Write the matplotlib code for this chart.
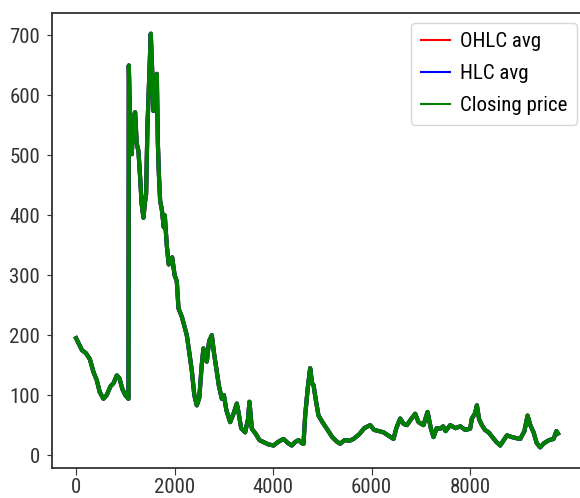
import matplotlib
matplotlib.use('Agg')
import matplotlib.pyplot as plt
from matplotlib import font_manager

# readings (index, closing price)
idx = [0, 60, 120, 200, 280, 351, 420, 480, 555, 620, 700, 760, 826, 880, 940, 1000, 1063,
       1070, 1090, 1110, 1131, 1160, 1198, 1230, 1266, 1300, 1330, 1367, 1395, 1421, 1448,
       1480, 1516, 1545, 1570, 1600, 1638, 1660, 1680, 1706, 1740, 1780, 1800, 1841, 1880,
       1950, 2000, 2044, 2078, 2150, 2247, 2300, 2350, 2400, 2450, 2500, 2550, 2585, 2620,
       2653, 2700, 2755, 2800, 2857, 2900, 2958, 3000, 3050, 3127, 3200, 3262, 3300, 3350,
       3431, 3490, 3519, 3567, 3650, 3722, 3800, 3900, 4007, 4100, 4210, 4300, 4379, 4450,
       4515, 4580, 4616, 4650, 4700, 4751, 4790, 4819, 4870, 4920, 5000, 5090, 5200, 5300,
       5360, 5450, 5550, 5631, 5750, 5850, 5969, 6050, 6150, 6240, 6350, 6443, 6500, 6579,
       6650, 6714, 6800, 6883, 6950, 7052, 7134, 7200, 7255, 7320, 7391, 7450, 7500, 7594,
       7700, 7800, 7900, 7998, 8034, 8100, 8135, 8180, 8237, 8300, 8372, 8450, 8530, 8609,
       8680, 8745, 8850, 8950, 9015, 9100, 9164, 9220, 9286, 9350, 9421, 9500, 9600, 9692,
       9750, 9780]
close_val = [195, 185, 175, 170, 160, 139, 125, 105, 94, 100, 115, 120, 133, 128, 110, 100, 94,
             650, 580, 540, 502, 560, 572, 520, 507, 463, 420, 396, 420, 435, 547,
             620, 703, 640, 574, 600, 636, 520, 470, 424, 410, 380, 400, 350, 318,
             330, 300, 290, 245, 230, 200, 170, 140, 100, 83, 95, 150, 178, 160,
             156, 190, 200, 170, 139, 115, 94, 100, 75, 55, 70, 86, 70, 45,
             38, 60, 89, 44, 35, 25, 22, 18, 16, 22, 27, 20, 16, 22,
             25, 20, 19, 66, 110, 145, 120, 117, 90, 66, 55, 44, 30, 22,
             19, 25, 24, 27, 35, 45, 50, 42, 40, 38, 32, 27, 45, 61,
             52, 50, 60, 69, 55, 50, 72, 45, 30, 45, 44, 48, 40, 50,
             45, 48, 42, 44, 61, 70, 83, 60, 50, 42, 38, 30, 22, 16,
             25, 33, 30, 28, 27, 40, 66, 50, 38, 20, 13, 20, 25, 27,
             40, 36]
# the two averages sit under the closing price line, indistinguishable at this scale
ohlc_avg = list(close_val)
hlc_avg = list(close_val)

# the reference text is horizontally squeezed, so take a condensed face
names = {f.name for f in font_manager.fontManager.ttflist}
wanted = ['Roboto Condensed', 'Open Sans Condensed', 'Barlow Semi Condensed',
          'Archivo Narrow', 'DejaVu Sans']
plt.rcParams['font.family'] = [n for n in wanted if n in names] or ['DejaVu Sans']

fig = plt.figure(figsize=(5.8, 4.98), dpi=100)
ax = fig.add_axes([52 / 580, 30 / 498, 530 / 580, 455 / 498])

ax.plot(idx, ohlc_avg, 'r', lw=3, label='OHLC avg')
ax.plot(idx, hlc_avg, 'b', lw=3, label='HLC avg')
ax.plot(idx, close_val, 'g', lw=3, label='Closing price')

ax.set_xticks([0, 2000, 4000, 6000, 8000])
ax.set_yticks([0, 100, 200, 300, 400, 500, 600, 700])
ax.tick_params(axis='x', length=5, pad=2.5, labelsize=15, colors='#333333')
ax.tick_params(axis='y', length=3.6, pad=5, labelsize=15, colors='#333333')
for s in ax.spines.values():
    s.set_linewidth(1.3)
    s.set_color('#333333')

leg = ax.legend(loc='upper right', bbox_to_anchor=(577 / 580, 1 - 23 / 498),
                bbox_transform=fig.transFigure, borderaxespad=0, fontsize=15,
                handlelength=1.4, handletextpad=0.5, labelspacing=0.62,
                borderpad=0.45)
for h in leg.get_lines():
    h.set_linewidth(1.5)

fig.savefig('out.png', dpi=100)
